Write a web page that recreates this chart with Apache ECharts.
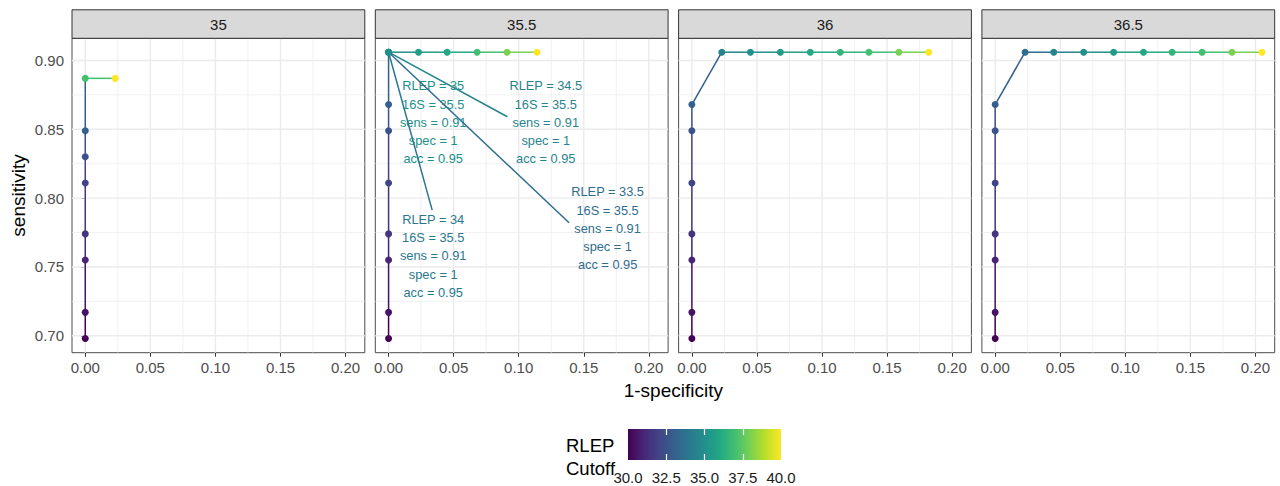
<!DOCTYPE html>
<html><head><meta charset="utf-8">
<script src="https://cdn.jsdelivr.net/npm/echarts@6/dist/echarts.min.js"></script>
<style>html,body{margin:0;padding:0;background:#fff}#c{width:1280px;height:486px}</style>
</head><body><div id="c"></div>
<script>
// ---------------- DATA ----------------
const panelLabels = ['35', '35.5', '36', '36.5'];   // 16S cutoff facets

// Panel 16S = 35
const cut35   = [30, 30.5, 31, 31.5, 32, 32.5, 33, 37, 40];
const fpr35   = [0, 0, 0, 0, 0, 0, 0, 0, 0.023];
const sens35  = [0.698, 0.717, 0.755, 0.774, 0.811, 0.830, 0.849, 0.887, 0.887];

// Panel 16S = 35.5
const cut355  = [30, 30.5, 31, 31.5, 32, 32.5, 33, 33.5, 34, 34.5, 35, 35.5, 36, 37, 38, 40];
const fpr355  = [0, 0, 0, 0, 0, 0, 0, 0, 0, 0, 0, 0.023, 0.045, 0.068, 0.091, 0.114];
const sens355 = [0.698, 0.717, 0.755, 0.774, 0.811, 0.849, 0.868, 0.906, 0.906, 0.906, 0.906, 0.906, 0.906, 0.906, 0.906, 0.906];

// Panel 16S = 36
const cut36   = [30, 30.5, 31, 31.5, 32, 32.5, 33, 34.5, 35, 35.5, 36, 36.5, 37, 38, 40];
const fpr36   = [0, 0, 0, 0, 0, 0, 0, 0.023, 0.045, 0.068, 0.091, 0.114, 0.136, 0.159, 0.182];
const sens36  = [0.698, 0.717, 0.755, 0.774, 0.811, 0.849, 0.868, 0.906, 0.906, 0.906, 0.906, 0.906, 0.906, 0.906, 0.906];

// Panel 16S = 36.5
const cut365  = [30, 30.5, 31, 31.5, 32, 32.5, 33, 33.5, 34.5, 35, 35.5, 36, 36.5, 37, 38, 40];
const fpr365  = [0, 0, 0, 0, 0, 0, 0, 0.023, 0.045, 0.068, 0.091, 0.114, 0.136, 0.159, 0.182, 0.205];
const sens365 = [0.698, 0.717, 0.755, 0.774, 0.811, 0.849, 0.868, 0.906, 0.906, 0.906, 0.906, 0.906, 0.906, 0.906, 0.906, 0.906];

const xTicks = [0, 0.05, 0.10, 0.15, 0.20];
const yTicks = [0.70, 0.75, 0.80, 0.85, 0.90];
const xMinor = [0.025, 0.075, 0.125, 0.175];
const yMinor = [0.725, 0.775, 0.825, 0.875];
const legendTicks = [30, 32.5, 35, 37.5, 40];

// Annotations (panel 16S = 35.5)
const annRLEP = [35, 34.5, 34, 33.5];
const ann16S  = [35.5, 35.5, 35.5, 35.5];
const annSens = [0.91, 0.91, 0.91, 0.91];
const annSpec = [1, 1, 1, 1];
const annAcc  = [0.95, 0.95, 0.95, 0.95];

// ---------------- LAYOUT / STYLE ----------------
const ANN_PANEL = 1;
const annLayout = [            // label centre and segment end, in data units
  { lx: 0.0343, ly: 0.855, ex: null,   ey: null },
  { lx: 0.1208, ly: 0.855, ex: 0.0913, ey: 0.8591 },
  { lx: 0.0343, ly: 0.758, ex: 0.0335, ey: 0.7913 },
  { lx: 0.1683, ly: 0.778, ex: 0.1387, ey: 0.7821 }
];
const X_RANGE = [-0.0102, 0.2148];
const Y_RANGE = [0.6877, 0.9161];
const P_LEFT0 = 72, P_STEP = 303.3, P_W = 292.8, P_TOP = 38.3, P_H = 314.4, S_TOP = 9.8;
const FONT = '"Liberation Sans", Arial, Helvetica, sans-serif';
const VIRIDIS = ['#440154', '#482576', '#414487', '#35608D', '#2A788E', '#21908C',
                 '#22A884', '#43BF71', '#7AD151', '#BBDF27', '#FDE725'];

const panels = [
  { cut: cut35,  fpr: fpr35,  sens: sens35 },
  { cut: cut355, fpr: fpr355, sens: sens355 },
  { cut: cut36,  fpr: fpr36,  sens: sens36 },
  { cut: cut365, fpr: fpr365, sens: sens365 }
];

const grids = [], xAxes = [], yAxes = [], series = [], graphics = [];
const colorSeries = [];

function renderSeg(params, api) {
  const a = api.coord([api.value(0), api.value(1)]);
  const b = api.coord([api.value(3), api.value(4)]);
  return { type: 'line', shape: { x1: a[0], y1: a[1], x2: b[0], y2: b[1] },
           style: { stroke: api.visual('color'), lineWidth: 1.5, fill: null } };
}
function renderVGrid(params, api) {
  const cs = params.coordSys;
  const p = api.coord([api.value(0), Y_RANGE[0]]);
  const major = api.value(1) === 1;
  return { type: 'line', shape: { x1: p[0], y1: cs.y, x2: p[0], y2: cs.y + cs.height },
           style: { stroke: '#EBEBEB', lineWidth: major ? 1.4 : 0.7 } };
}
function renderHGrid(params, api) {
  const cs = params.coordSys;
  const p = api.coord([X_RANGE[0], api.value(0)]);
  const major = api.value(1) === 1;
  return { type: 'line', shape: { x1: cs.x, y1: p[1], x2: cs.x + cs.width, y2: p[1] },
           style: { stroke: '#EBEBEB', lineWidth: major ? 1.4 : 0.7 } };
}

panels.forEach((pn, i) => {
  const left = P_LEFT0 + i * P_STEP;
  grids.push({ left: left, top: P_TOP, width: P_W, height: P_H, show: true,
               borderColor: '#4D4D4D', borderWidth: 1, backgroundColor: '#fff', containLabel: false });
  xAxes.push({
    type: 'value', gridIndex: i, min: X_RANGE[0], max: X_RANGE[1],
    splitLine: { show: false }, axisLine: { show: false },
    axisTick: { show: true, customValues: xTicks, length: 4, lineStyle: { color: '#333', width: 1 } },
    axisLabel: { show: true, customValues: xTicks, formatter: v => v.toFixed(2), color: '#4D4D4D',
                 fontSize: 15, fontFamily: FONT, margin: 7 }
  });
  yAxes.push({
    type: 'value', gridIndex: i, min: Y_RANGE[0], max: Y_RANGE[1],
    splitLine: { show: false }, axisLine: { show: false },
    axisTick: { show: i === 0, customValues: yTicks, length: 4, lineStyle: { color: '#333', width: 1 } },
    axisLabel: { show: i === 0, customValues: yTicks, formatter: v => v.toFixed(2), color: '#4D4D4D',
                 fontSize: 15, fontFamily: FONT, margin: 8 },
    name: i === 0 ? 'sensitivity' : '', nameLocation: 'middle', nameRotate: 90, nameGap: 44,
    nameTextStyle: { fontSize: 19, color: '#000', fontFamily: FONT }
  });
  // grid lines
  series.push({
    type: 'custom', xAxisIndex: i, yAxisIndex: i, z: 1, silent: true, renderItem: renderVGrid,
    data: xMinor.map(v => [v, 0]).concat(xTicks.map(v => [v, 1])), encode: { x: 0 }
  });
  series.push({
    type: 'custom', xAxisIndex: i, yAxisIndex: i, z: 1, silent: true, renderItem: renderHGrid,
    data: yMinor.map(v => [v, 0]).concat(yTicks.map(v => [v, 1])), encode: { y: 0 }
  });
  // path segments (coloured by start point)
  const segs = [];
  for (let k = 0; k < pn.cut.length - 1; k++) {
    segs.push([pn.fpr[k], pn.sens[k], pn.cut[k], pn.fpr[k + 1], pn.sens[k + 1]]);
  }
  colorSeries.push(series.length);
  series.push({ type: 'custom', xAxisIndex: i, yAxisIndex: i, z: 2, renderItem: renderSeg,
                data: segs, encode: { x: [0, 3], y: [1, 4] }, silent: true });
  // points
  colorSeries.push(series.length);
  series.push({ type: 'scatter', xAxisIndex: i, yAxisIndex: i, z: 4, symbolSize: 7, silent: true,
                data: pn.cut.map((c, k) => [pn.fpr[k], pn.sens[k], c]),
                itemStyle: { opacity: 1 } });
  // strip
  graphics.push({ type: 'rect', shape: { x: left, y: S_TOP, width: P_W, height: P_TOP - S_TOP },
                  style: { fill: '#D9D9D9', stroke: '#333333', lineWidth: 1 }, z: 10 });
  graphics.push({ type: 'text', x: left + P_W / 2, y: (S_TOP + P_TOP) / 2, z: 11,
                  style: { text: panelLabels[i], fill: '#1A1A1A', font: '15px ' + FONT,
                           textAlign: 'center', textVerticalAlign: 'middle', align: 'center', verticalAlign: 'middle' } });
});

// annotations
const ap = panels[ANN_PANEL];
const annText = annRLEP.map((r, k) =>
  'RLEP = ' + r + '\n16S = ' + ann16S[k] + '\nsens = ' + annSens[k] + '\nspec = ' + annSpec[k] + '\nacc = ' + annAcc[k]);
const annData = annRLEP.map((r, k) => {
  const idx = ap.cut.indexOf(r);
  const L = annLayout[k];
  const px = ap.fpr[idx], py = ap.sens[idx];
  return [px, py, r, L.ex == null ? px : L.ex, L.ey == null ? py : L.ey, L.lx, L.ly];
});
colorSeries.push(series.length);
series.push({
  type: 'custom', xAxisIndex: ANN_PANEL, yAxisIndex: ANN_PANEL, z: 3, silent: true,
  data: annData, encode: { x: [0, 3, 5], y: [1, 4, 6] },
  renderItem: function (params, api) {
    const p = api.coord([api.value(0), api.value(1)]);
    const e = api.coord([api.value(3), api.value(4)]);
    const l = api.coord([api.value(5), api.value(6)]);
    const col = api.visual('color');
    return { type: 'group', children: [
      { type: 'line', shape: { x1: p[0], y1: p[1], x2: e[0], y2: e[1] }, style: { stroke: col, lineWidth: 1.5 } },
      { type: 'text', x: l[0], y: l[1],
        style: { text: annText[params.dataIndex], fill: col, fontSize: 12.8, fontFamily: FONT,
                 align: 'center', verticalAlign: 'middle', lineHeight: 18.3 } }
    ] };
  }
});

// colour bar legend
const LG = 4;
grids.push({ left: 628, top: 429, width: 153, height: 31, show: false });
xAxes.push({ type: 'value', gridIndex: LG, min: 30, max: 40, interval: 2.5, z: 10,
             splitLine: { show: false }, axisLine: { show: false },
             axisTick: { show: true, inside: true, length: 6, customValues: [32.5, 35, 37.5], lineStyle: { color: '#fff', width: 1.2 } },
             axisLabel: { show: true, customValues: legendTicks, formatter: v => v.toFixed(1), color: '#1A1A1A', fontSize: 15, fontFamily: FONT, margin: 10 } });
xAxes.push({ type: 'value', gridIndex: LG, position: 'top', min: 30, max: 40, interval: 2.5, z: 10,
             splitLine: { show: false }, axisLine: { show: false }, axisLabel: { show: false },
             axisTick: { show: true, inside: true, length: 6, customValues: [32.5, 35, 37.5], lineStyle: { color: '#fff', width: 1.2 } } });
yAxes.push({ type: 'value', gridIndex: LG, min: 0, max: 1, show: false });
series.push({
  type: 'custom', xAxisIndex: 4, yAxisIndex: 4, z: 2, silent: true,
  data: [[legendTicks[0], 0, legendTicks[legendTicks.length - 1], 1]], encode: { x: [0, 2], y: [1, 3] },
  renderItem: function (params, api) {
    const a = api.coord([api.value(0), api.value(3)]);
    const b = api.coord([api.value(2), api.value(1)]);
    return { type: 'rect', shape: { x: a[0], y: a[1], width: b[0] - a[0], height: b[1] - a[1] },
             style: { fill: new echarts.graphic.LinearGradient(0, 0, 1, 0,
               VIRIDIS.map((c, k) => ({ offset: k / (VIRIDIS.length - 1), color: c }))) } };
  }
});

graphics.push({ type: 'text', x: P_LEFT0 + (3 * P_STEP + P_W) / 2, y: 390, z: 11,
                style: { text: '1-specificity', fill: '#000', font: '19px ' + FONT,
                         textAlign: 'center', textVerticalAlign: 'middle', align: 'center', verticalAlign: 'middle' } });
graphics.push({ type: 'text', x: 566, y: 434, z: 11,
                style: { text: 'RLEP\nCutoff', fill: '#000', font: '18.5px ' + FONT, lineHeight: 23,
                         textAlign: 'left', textVerticalAlign: 'top', align: 'left', verticalAlign: 'top' } });

const chart = echarts.init(document.getElementById('c'), null, { renderer: 'svg' });
chart.setOption({
  animation: false,
  backgroundColor: '#fff',
  grid: grids, xAxis: xAxes, yAxis: yAxes, series: series,
  visualMap: [{ type: 'continuous', show: false, min: 30, max: 40, dimension: 2,
                seriesIndex: colorSeries, inRange: { color: VIRIDIS } }],
  graphic: { elements: graphics }
});
</script></body></html>
